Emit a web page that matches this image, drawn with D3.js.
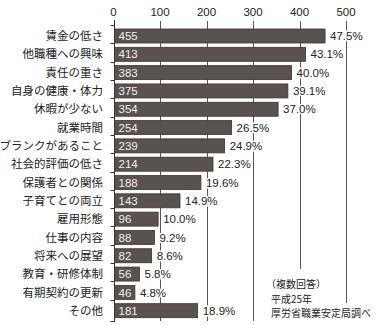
<!DOCTYPE html>
<html><head><meta charset="utf-8">
<script src="https://cdn.jsdelivr.net/npm/d3@7"></script>
<style>
html,body{margin:0;padding:0;background:#fff;}
svg{display:block;}
</style></head>
<body>
<script>
const categories = ["賃金の低さ","他職種への興味","責任の重さ","自身の健康・体力","休暇が少ない","就業時間","ブランクがあること","社会的評価の低さ","保護者との関係","子育てとの両立","雇用形態","仕事の内容","将来への展望","教育・研修体制","有期契約の更新","その他"];
const counts = [455,413,383,375,354,254,239,214,188,143,96,88,82,56,46,181];
const percents = [47.5,43.1,40.0,39.1,37.0,26.5,24.9,22.3,19.6,14.9,10.0,9.2,8.6,5.8,4.8,18.9];
const tickValues = [0,100,200,300,400,500];
const noteLines = ["（複数回答）","平成25年","厚労省職業安定局調べ"];

const W = 380, H = 325;
const latin = "'Liberation Sans', Arial, sans-serif";
const jp = "'Noto Sans CJK JP', sans-serif";

const svg = d3.select("body").append("svg").attr("width", W).attr("height", H);
svg.append("rect").attr("width", W).attr("height", H).attr("fill", "#fff");

const x = d3.scaleLinear().domain([0, 500]).range([113.5, 346]);
const y = d3.scaleBand().domain(categories).range([25, 318]).padding(0);
const barOff = 4, barH = 14;

// gridlines
const gridEnd = v => v === 400 ? 269 : (v === 500 ? 303 : 321);
svg.append("g").selectAll("line").data(tickValues.filter(v => v > 0)).join("line")
  .attr("x1", d => Math.round(x(d)) + 0.5).attr("x2", d => Math.round(x(d)) + 0.5)
  .attr("y1", 21).attr("y2", d => gridEnd(d))
  .attr("stroke", "#555").attr("stroke-width", 1);

// top tick labels
svg.append("g").selectAll("text").data(tickValues).join("text")
  .attr("x", d => x(d)).attr("y", 12).attr("dy", "0.35em")
  .attr("text-anchor", "middle")
  .attr("font-family", latin).attr("font-size", 11.5).attr("fill", "#222")
  .text(d => d);

// left axis
const ax = Math.round(x(0)) + 0.5;
svg.append("line").attr("x1", ax).attr("x2", ax).attr("y1", 20).attr("y2", 322)
  .attr("stroke", "#333").attr("stroke-width", 1);
const bounds = categories.map(c => y(c)).concat([y.range()[1] + 3]);
svg.append("g").selectAll("line").data(bounds).join("line")
  .attr("x1", ax - 4).attr("x2", ax)
  .attr("y1", d => Math.round(d) + 0.5).attr("y2", d => Math.round(d) + 0.5)
  .attr("stroke", "#333").attr("stroke-width", 1);

// bars
svg.append("g").selectAll("rect").data(counts).join("rect")
  .attr("x", x(0) + 1)
  .attr("y", (d, i) => y(categories[i]) + barOff)
  .attr("width", d => x(d) - x(0) - 1)
  .attr("height", barH)
  .attr("fill", "#5a524e")
  .attr("stroke", "#3a3330").attr("stroke-width", 0.8);

// value labels inside bars
svg.append("g").selectAll("text").data(counts).join("text")
  .attr("x", x(0) + 5)
  .attr("y", (d, i) => y(categories[i]) + barOff + barH / 2)
  .attr("dy", "0.36em")
  .attr("font-family", latin).attr("font-size", 11.5).attr("fill", "#f2eeea")
  .text(d => d);

// percent labels
svg.append("g").selectAll("text").data(percents).join("text")
  .attr("x", (d, i) => x(counts[i]) + 5)
  .attr("y", (d, i) => y(categories[i]) + barOff + barH / 2)
  .attr("dy", "0.36em")
  .attr("font-family", latin).attr("font-size", 11.5).attr("fill", "#222")
  .attr("stroke", "#fff").attr("stroke-width", 3).attr("paint-order", "stroke")
  .text(d => d.toFixed(1) + "%");

// category labels
svg.append("g").selectAll("text").data(categories).join("text")
  .attr("x", 103)
  .attr("y", d => y(d) + barOff + barH / 2)
  .attr("dy", "0.36em")
  .attr("text-anchor", "end")
  .attr("font-family", jp).attr("font-size", 11.5).attr("fill", "#222")
  .text(d => d);

// notes
const noteX = [266, 271, 271], noteY = [284, 299.5, 313.5];
svg.append("g").selectAll("text").data(noteLines).join("text")
  .attr("x", (d, i) => noteX[i]).attr("y", (d, i) => noteY[i]).attr("dy", "0.36em")
  .attr("font-family", jp).attr("font-size", 10).attr("fill", "#222")
  .text(d => d);
</script>
</body></html>
